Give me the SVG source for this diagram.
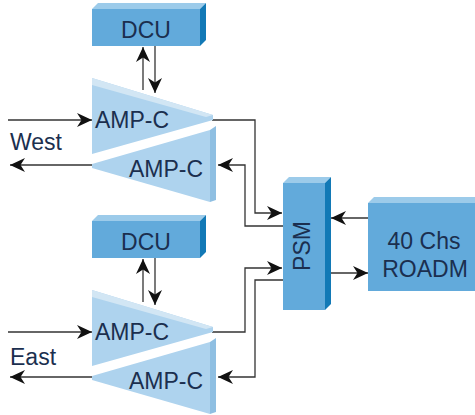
<svg xmlns="http://www.w3.org/2000/svg" width="475" height="415" viewBox="0 0 475 415">
<style>
.t{font-family:"Liberation Sans",Arial,sans-serif;font-size:23px;fill:#1b2f4f}
.ln{fill:none;stroke:#333;stroke-width:1.3}
.front{fill:#62aadb}
.top{fill:#9ccbea}
.side{fill:#1279b6}
.amp{fill:#aed3ee}
.ampTop{fill:#d2e6f4}
.ampSide{fill:#8fbfe2}
</style>
<defs>
<marker id="ah" markerUnits="userSpaceOnUse" markerWidth="16" markerHeight="14" refX="15" refY="7" orient="auto">
<path d="M0,0 L15,7 L0,14 L4.5,7 z" fill="#111"/>
</marker>
</defs>
<rect width="475" height="415" fill="#fff"/>
<g id="connectors">
<path class="ln" d="M8,120 H92" marker-end="url(#ah)"/>
<path class="ln" d="M92,165 H10" marker-end="url(#ah)"/>
<path class="ln" d="M143,90 V47" marker-end="url(#ah)"/>
<path class="ln" d="M155,46 V93" marker-end="url(#ah)"/>
<path class="ln" d="M212,120 H255 V213 H282" marker-end="url(#ah)"/>
<path class="ln" d="M283,226 H245 V165 H218" marker-end="url(#ah)"/>
<path class="ln" d="M8,332 H92" marker-end="url(#ah)"/>
<path class="ln" d="M92,377 H10" marker-end="url(#ah)"/>
<path class="ln" d="M143,302 V259" marker-end="url(#ah)"/>
<path class="ln" d="M155,258 V305" marker-end="url(#ah)"/>
<path class="ln" d="M212,332 H245 V268 H282" marker-end="url(#ah)"/>
<path class="ln" d="M283,280 H255 V377 H218" marker-end="url(#ah)"/>
<path class="ln" d="M368,218 H331" marker-end="url(#ah)"/>
<path class="ln" d="M330,273 H368" marker-end="url(#ah)"/>
</g>
<g id="dcu-west">
<polygon class="top" points="92,9 98,3 206,3 200,9"/>
<polygon class="side" points="200,9 206,3 206,40 200,46"/>
<rect class="front" x="92" y="9" width="108" height="37"/>
<text class="t" x="146" y="38" text-anchor="middle">DCU</text>
</g>
<g id="amp-west-in">
<polygon class="amp" points="92,78 213,115 213,120 92,154"/>
<polygon class="ampTop" points="92,78 213,115 206,117 92,85"/>
<text class="t" x="95" y="128">AMP-C</text>
</g>
<g id="amp-west-out">
<polygon class="ampSide" points="210,130 216,126 216,200 210,202"/>
<polygon class="amp" points="92,164 210,130 210,202 92,168"/>
<text class="t" x="129" y="177">AMP-C</text>
</g>
<text class="t" x="10" y="150">West</text>
<g id="dcu-east">
<polygon class="top" points="92,221 98,215 206,215 200,221"/>
<polygon class="side" points="200,221 206,215 206,252 200,258"/>
<rect class="front" x="92" y="221" width="108" height="37"/>
<text class="t" x="146" y="250" text-anchor="middle">DCU</text>
</g>
<g id="amp-east-in">
<polygon class="amp" points="92,290 213,327 213,332 92,366"/>
<polygon class="ampTop" points="92,290 213,327 206,329 92,297"/>
<text class="t" x="95" y="340">AMP-C</text>
</g>
<g id="amp-east-out">
<polygon class="ampSide" points="210,342 216,338 216,412 210,414"/>
<polygon class="amp" points="92,376 210,342 210,414 92,380"/>
<text class="t" x="129" y="389">AMP-C</text>
</g>
<text class="t" x="10" y="365">East</text>
<g id="psm">
<polygon class="top" points="283,183 289,177 331,177 325,183"/>
<polygon class="side" points="325,183 331,177 331,304 325,310"/>
<rect class="front" x="283" y="183" width="42" height="127"/>
<text class="t" transform="translate(310,246) rotate(-90)" text-anchor="middle">PSM</text>
</g>
<g id="roadm">
<polygon class="top" points="368,203 374,197 475,197 475,203"/>
<rect class="front" x="368" y="203" width="107" height="88"/>
<text class="t" x="424" y="249" text-anchor="middle">40 Chs</text>
<text class="t" x="425" y="277" text-anchor="middle">ROADM</text>
</g>
</svg>
